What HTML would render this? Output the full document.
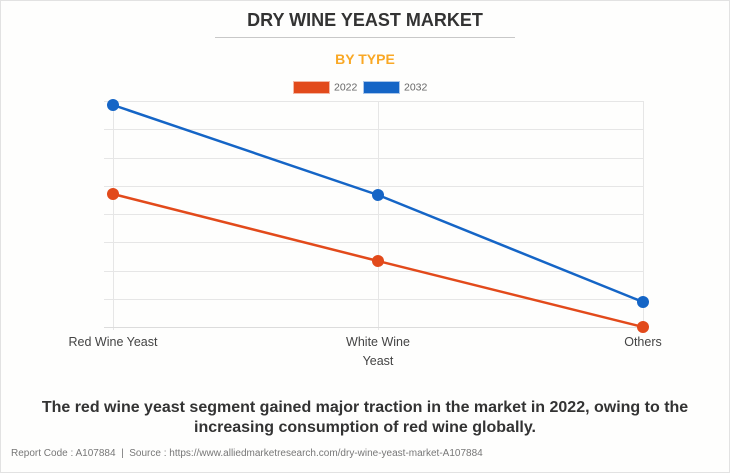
<!DOCTYPE html>
<html><head><meta charset="utf-8">
<style>
html,body{margin:0;padding:0;}
body{width:730px;height:473px;position:relative;overflow:hidden;background:#fefefd;font-family:"Liberation Sans",Arial,sans-serif;}
.frame{position:absolute;left:0;top:0;width:728px;height:471px;border:1px solid #e2e2e2;}
.t{position:absolute;white-space:nowrap;}
</style></head>
<body>
<div class="frame"></div>
<div class="t" style="left:0;width:730px;top:10px;text-align:center;font-size:18px;font-weight:bold;color:#333;line-height:20px;">DRY WINE YEAST MARKET</div>
<div style="position:absolute;left:215px;top:37px;width:300px;height:1px;background:#c8c8c8;"></div>
<div class="t" style="left:0;width:730px;top:51px;text-align:center;font-size:14px;font-weight:bold;color:#f9a825;line-height:16px;">BY TYPE</div>
<svg style="position:absolute;left:0;top:0" width="730" height="473" viewBox="0 0 730 473">
  <rect x="293.5" y="81.5" width="36" height="12" fill="#e24a1b" stroke="#f3b7a4" stroke-width="1"/>
  <text x="334" y="90.5" font-family="Liberation Sans, Arial, sans-serif" font-size="10.5" fill="#666">2022</text>
  <rect x="363.5" y="81.5" width="36" height="12" fill="#1565c6" stroke="#a9c6ea" stroke-width="1"/>
  <text x="404" y="90.5" font-family="Liberation Sans, Arial, sans-serif" font-size="10.5" fill="#666">2032</text>
  <g stroke="#e6e6e6" stroke-width="1">
    <line x1="104" y1="101.5" x2="643" y2="101.5"/>
    <line x1="104" y1="129.5" x2="643" y2="129.5"/>
    <line x1="104" y1="158.5" x2="643" y2="158.5"/>
    <line x1="104" y1="186.5" x2="643" y2="186.5"/>
    <line x1="104" y1="214.5" x2="643" y2="214.5"/>
    <line x1="104" y1="242.5" x2="643" y2="242.5"/>
    <line x1="104" y1="271.5" x2="643" y2="271.5"/>
    <line x1="104" y1="299.5" x2="643" y2="299.5"/>
    <line x1="113.5" y1="101" x2="113.5" y2="330"/>
    <line x1="378.5" y1="101" x2="378.5" y2="330"/>
    <line x1="643.5" y1="101" x2="643.5" y2="328"/>
  </g>
  <line x1="104" y1="327.5" x2="643" y2="327.5" stroke="#dcdcdc" stroke-width="1"/>
  <polyline points="113,194 378,261 643,327" fill="none" stroke="#e24a1b" stroke-width="2.5"/>
  <polyline points="113,105 378,195 643,302" fill="none" stroke="#1565c6" stroke-width="2.5"/>
  <g fill="#e24a1b">
    <circle cx="113" cy="194" r="6"/>
    <circle cx="378" cy="261" r="6"/>
    <circle cx="643" cy="327" r="6"/>
  </g>
  <g fill="#1565c6">
    <circle cx="113" cy="105" r="6"/>
    <circle cx="378" cy="195" r="6"/>
    <circle cx="643" cy="302" r="6"/>
  </g>
  <g font-family="Liberation Sans, Arial, sans-serif" font-size="12.5" fill="#444" text-anchor="middle">
    <text x="113" y="346">Red Wine Yeast</text>
    <text x="378" y="346">White Wine</text>
    <text x="378" y="365">Yeast</text>
    <text x="643" y="346">Others</text>
  </g>
</svg>
<div class="t" style="left:0;width:730px;top:398px;text-align:center;font-size:16px;font-weight:bold;color:#333;line-height:19.5px;">The red wine yeast segment gained major traction in the market in 2022, owing to the<br>increasing consumption of red wine globally.</div>
<div class="t" style="left:11px;top:448px;font-size:10px;color:#777;line-height:12px;">Report Code : A107884 &nbsp;| &nbsp;Source : https://www.alliedmarketresearch.com/dry-wine-yeast-market-A107884</div>
</body></html>
